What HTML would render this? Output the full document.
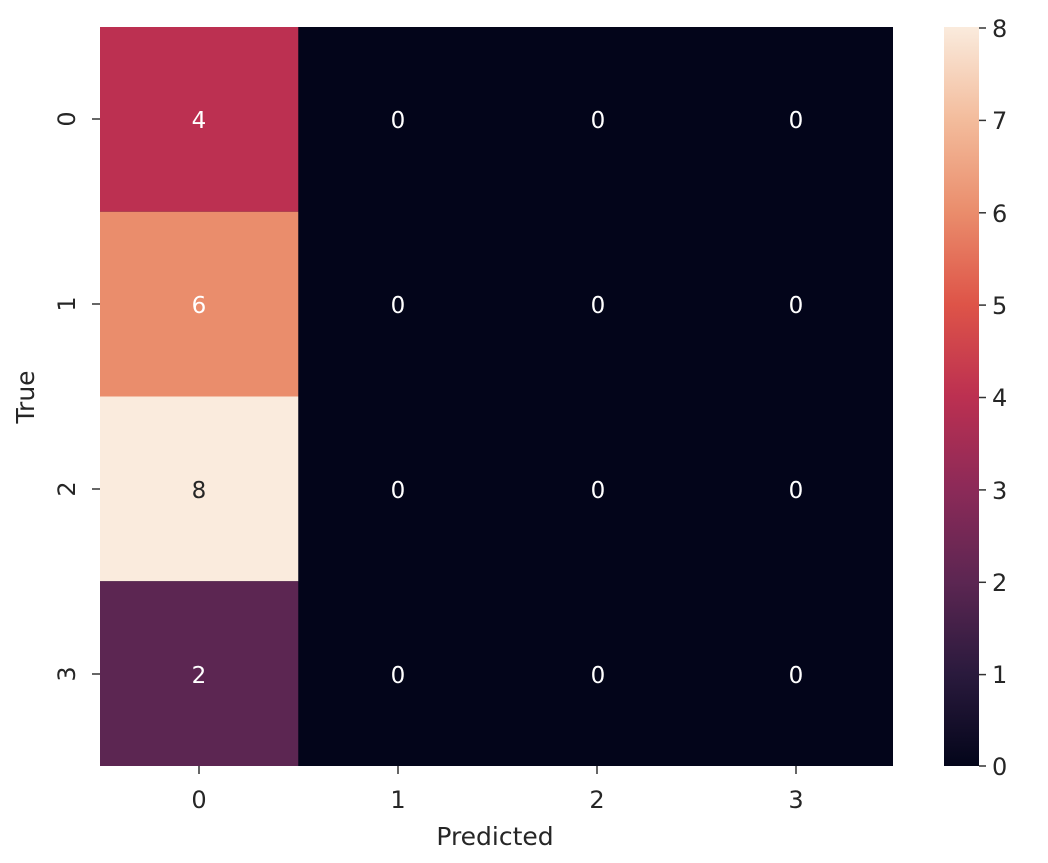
<!DOCTYPE html>
<html><head><meta charset="utf-8"><style>body{margin:0;background:#fff}</style></head>
<body>
<svg width="1048" height="858" xmlns="http://www.w3.org/2000/svg" font-family="'DejaVu Sans','Liberation Sans',sans-serif">
<defs><linearGradient id="g" x1="0" y1="1" x2="0" y2="0">
<stop offset="0" stop-color="#03051A"/><stop offset="0.125" stop-color="#2a1a3d"/><stop offset="0.25" stop-color="#5C2652"/><stop offset="0.375" stop-color="#8c2a58"/><stop offset="0.5" stop-color="#BC3051"/><stop offset="0.625" stop-color="#de5448"/><stop offset="0.75" stop-color="#EA8D6C"/><stop offset="0.875" stop-color="#F3BC9C"/><stop offset="1" stop-color="#FAEBDD"/>
</linearGradient></defs>
<rect x="100" y="27" width="793" height="739" fill="#03051A"/>
<rect x="100" y="27" width="198.25" height="184.75" fill="#BC3051"/>
<rect x="100" y="211.75" width="198.25" height="184.75" fill="#EA8D6C"/>
<rect x="100" y="396.5" width="198.25" height="184.75" fill="#FAEBDD"/>
<rect x="100" y="581.25" width="198.25" height="184.75" fill="#5C2652"/>
<g font-size="23" text-anchor="middle" fill="#fff">
<text x="199" y="128">4</text><text x="199" y="313">6</text><text x="199" y="498" fill="#262626">8</text><text x="199" y="683">2</text>
<text x="398" y="128">0</text><text x="598" y="128">0</text><text x="796" y="128">0</text>
<text x="398" y="313">0</text><text x="598" y="313">0</text><text x="796" y="313">0</text>
<text x="398" y="498">0</text><text x="598" y="498">0</text><text x="796" y="498">0</text>
<text x="398" y="683">0</text><text x="598" y="683">0</text><text x="796" y="683">0</text>
</g>
<g stroke="#333" stroke-width="1.5">
<line x1="199" y1="766" x2="199" y2="774"/><line x1="398" y1="766" x2="398" y2="774"/><line x1="597" y1="766" x2="597" y2="774"/><line x1="796" y1="766" x2="796" y2="774"/>
<line x1="92" y1="119" x2="100" y2="119"/><line x1="92" y1="304" x2="100" y2="304"/><line x1="92" y1="489" x2="100" y2="489"/><line x1="92" y1="674" x2="100" y2="674"/>
</g>
<g font-size="24" fill="#262626" text-anchor="middle">
<text x="199" y="808">0</text><text x="398" y="808">1</text><text x="597" y="808">2</text><text x="796" y="808">3</text>
<text x="495" y="845" font-size="25">Predicted</text>
<text transform="translate(75,119) rotate(-90)">0</text>
<text transform="translate(75,304) rotate(-90)">1</text>
<text transform="translate(75,489) rotate(-90)">2</text>
<text transform="translate(75,674) rotate(-90)">3</text>
<text transform="translate(34,397) rotate(-90)" font-size="25">True</text>
</g>
<rect x="944" y="27" width="35" height="739" fill="url(#g)"/>
<g stroke="#333" stroke-width="1.5">
<line x1="979" y1="28" x2="986" y2="28"/><line x1="979" y1="120.4" x2="986" y2="120.4"/><line x1="979" y1="212.8" x2="986" y2="212.8"/><line x1="979" y1="305.1" x2="986" y2="305.1"/><line x1="979" y1="397.5" x2="986" y2="397.5"/><line x1="979" y1="489.9" x2="986" y2="489.9"/><line x1="979" y1="582.3" x2="986" y2="582.3"/><line x1="979" y1="674.6" x2="986" y2="674.6"/><line x1="979" y1="766" x2="986" y2="766"/>
</g>
<g font-size="24" fill="#262626">
<text x="992" y="37">8</text><text x="992" y="129">7</text><text x="992" y="222">6</text><text x="992" y="314">5</text><text x="992" y="406">4</text><text x="992" y="499">3</text><text x="992" y="591">2</text><text x="992" y="683">1</text><text x="992" y="775">0</text>
</g>
</svg>
</body></html>
